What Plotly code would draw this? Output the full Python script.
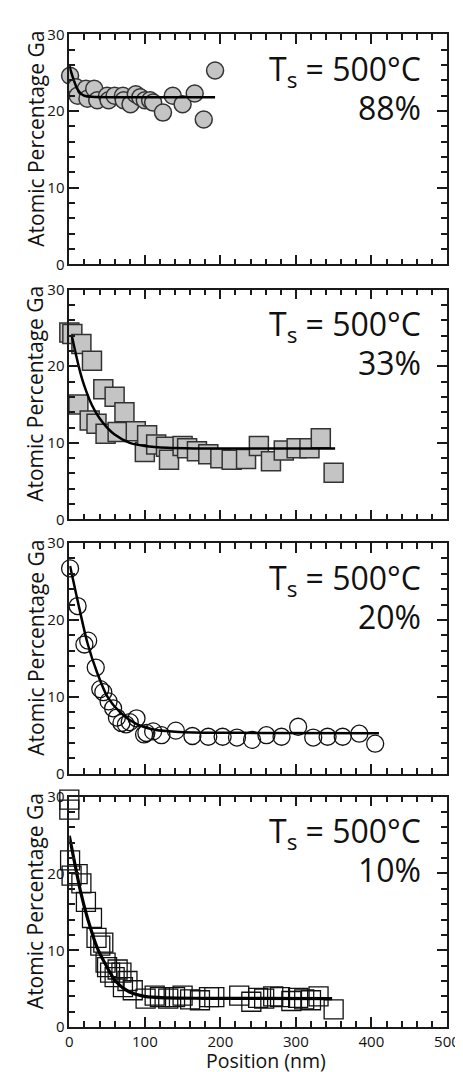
import plotly.graph_objects as go

# ---------------- data ----------------
p1_x = [1, 9, 11, 22, 24, 33, 37, 50, 52, 60, 71, 72, 81, 88, 94, 100, 107, 111, 124, 137, 150, 166, 178, 193]
p1_y = [24.6, 23.1, 22.0, 22.9, 21.6, 22.9, 21.4, 22.0, 21.4, 22.0, 22.0, 21.4, 20.9, 22.2, 21.8, 21.4, 21.4, 21.1, 19.8, 22.0, 20.9, 22.3, 18.9, 25.3]
p1_fit_x = [0, 5, 10, 15, 20, 30, 60, 120, 193]
p1_fit_y = [25.9, 24.3, 23.0, 22.3, 22.0, 21.85, 21.8, 21.8, 21.8]

p2_x = [0, 4, 16, 30, 12, 45, 60, 73, 27, 36, 48, 64, 88, 100, 103, 115, 128, 132, 150, 156, 169, 184, 200, 215, 234, 251, 267, 284, 301, 318, 333, 350]
p2_y = [24.4, 24.2, 22.9, 20.7, 15.0, 17.0, 16.0, 14.0, 12.9, 12.5, 11.2, 11.4, 11.5, 8.8, 11.0, 9.8, 9.5, 7.8, 9.6, 9.3, 8.9, 8.5, 8.0, 7.8, 7.9, 9.6, 7.6, 9.0, 9.3, 9.3, 10.6, 6.1]
p2_fit_x = [3, 10, 15, 20, 30, 40, 50, 60, 80, 100, 130, 170, 250, 352]
p2_fit_y = [24.1, 21.0, 19.0, 17.4, 14.9, 13.2, 12.0, 11.1, 10.0, 9.6, 9.35, 9.27, 9.25, 9.25]

p3_x = [1, 11, 20, 25, 35, 41, 45, 52, 58, 63, 69, 75, 80, 89, 99, 102, 111, 122, 141, 163, 184, 203, 222, 242, 261, 281, 303, 323, 342, 362, 384, 405]
p3_y = [26.7, 21.8, 16.8, 17.3, 13.8, 11.0, 10.6, 9.4, 8.5, 7.3, 6.6, 6.4, 6.7, 7.2, 5.1, 5.3, 5.5, 5.0, 5.6, 4.9, 4.8, 4.8, 4.7, 4.4, 5.0, 4.8, 6.1, 4.7, 4.8, 4.8, 5.2, 3.9]
p3_fit_x = [1, 11, 24, 37, 50, 67, 88, 113, 140, 164, 250, 410]
p3_fit_y = [27.0, 22.5, 17.0, 13.1, 10.1, 8.0, 6.5, 5.7, 5.45, 5.35, 5.3, 5.25]

p4_x = [0, 0, 1, 3, 11, 16, 22, 30, 36, 41, 45, 48, 50, 54, 60, 64, 69, 71, 77, 84, 101, 113, 120, 131, 140, 150, 160, 173, 185, 192, 225, 241, 250, 258, 270, 279, 294, 303, 311, 320, 330, 350]
p4_y = [29.6, 28.3, 21.7, 19.7, 19.9, 18.7, 16.3, 14.2, 11.6, 10.6, 11.0, 8.4, 7.8, 7.1, 6.5, 7.5, 7.1, 5.2, 6.0, 4.8, 3.7, 4.1, 3.9, 3.7, 3.9, 4.1, 3.6, 3.5, 3.9, 3.9, 4.1, 3.3, 3.8, 3.7, 4.0, 3.9, 3.4, 3.8, 3.6, 3.5, 4.0, 2.3]
p4_fit_x = [0, 7, 15, 24, 37, 50, 62, 79, 100, 130, 180, 348]
p4_fit_y = [24.9, 21.4, 17.6, 14.2, 10.3, 7.8, 5.9, 4.6, 4.0, 3.8, 3.75, 3.7]

labels_temp = "T<sub>s</sub> = 500°C"
labels_pct = ["88%", "33%", "20%", "10%"]

# ---------------- layout geometry (pixels) ----------------
W, H = 463, 1072
X_LEFT, X_RIGHT = 59.5, 451.5
panels_px = [(15.7, 250.0), (275.7, 510.0), (534.0, 769.0), (792.3, 1027.3)]

def py(p):
    return 1 - p / H

FONT = "Open Sans, Liberation Sans, sans-serif"
NARROW = "Liberation Sans Narrow, Arial Narrow, Open Sans, sans-serif"
TICKFONT = dict(family=NARROW, size=15, color="#111")
AXC = "#1a1a1a"

fig = go.Figure()

series = [
    (p1_x, p1_y, p1_fit_x, p1_fit_y, dict(symbol="circle", size=17, color="#c4c4c4", line=dict(color="#333", width=1.5)), 2.5),
    (p2_x, p2_y, p2_fit_x, p2_fit_y, dict(symbol="square", size=19, color="#c4c4c4", line=dict(color="#333", width=1.5)), 2.5),
    (p3_x, p3_y, p3_fit_x, p3_fit_y, dict(symbol="circle-open", size=17, color="#111", line=dict(color="#111", width=1.3)), 2.5),
    (p4_x, p4_y, p4_fit_x, p4_fit_y, dict(symbol="square-open", size=19, color="#111", line=dict(color="#111", width=1.3)), 3.2),
]

annotations = []
for i, (sx, sy, fx, fy, mk, lw) in enumerate(series):
    n = "" if i == 0 else str(i + 1)
    xa, ya = "x" + n, "y" + n
    fig.add_trace(go.Scatter(x=sx, y=sy, mode="markers", marker=mk, xaxis=xa, yaxis=ya,
                             cliponaxis=False, showlegend=False))
    fig.add_trace(go.Scatter(x=fx, y=fy, mode="lines", line=dict(color="#000", width=lw, shape="spline", smoothing=0.8),
                             xaxis=xa, yaxis=ya, cliponaxis=False, showlegend=False))
    top, bot = panels_px[i]
    last = (i == 3)
    fig.layout["xaxis" + n] = dict(
        domain=[X_LEFT / W, X_RIGHT / W], anchor=ya, range=[0, 500],
        tickmode="linear", tick0=0, dtick=100,
        showticklabels=last, ticks="inside", ticklen=10, tickwidth=1.6, tickcolor=AXC,
        minor=dict(tickmode="linear", tick0=0, dtick=20, ticks="inside", ticklen=6, tickwidth=1.5,
                   tickcolor=AXC, showgrid=False),
        showline=True, linecolor=AXC, linewidth=1.6, mirror="ticks",
        showgrid=False, zeroline=False, tickfont=TICKFONT, fixedrange=True,
        ticklabeloverflow="allow",
    )
    fig.layout["yaxis" + n] = dict(
        domain=[py(bot), py(top)], anchor=xa, range=[0, 30],
        tickmode="linear", tick0=0, dtick=10,
        ticks="inside", ticklen=10, tickwidth=1.6, tickcolor=AXC,
        minor=dict(tickmode="linear", tick0=0, dtick=2, ticks="inside", ticklen=6, tickwidth=1.5,
                   tickcolor=AXC, showgrid=False),
        showline=True, linecolor=AXC, linewidth=1.6, mirror="ticks",
        showgrid=False, zeroline=False, tickfont=TICKFONT, fixedrange=True,
        ticklabeloverflow="allow",
    )
    annotations.append(dict(text="Atomic Percentage Ga", textangle=-90, xref="paper", yref="paper",
                            x=24 / W, y=py((top + bot) / 2 - 11), xanchor="center", yanchor="middle",
                            showarrow=False, font=dict(family=FONT, size=21, color="#111")))
    annotations.append(dict(text=labels_temp, xref="paper", yref="paper", x=427 / W, y=py(top + 37.5),
                            xanchor="right", yanchor="middle", showarrow=False,
                            font=dict(family=NARROW, size=32, color="#111")))
    annotations.append(dict(text=labels_pct[i], xref="paper", yref="paper", x=427 / W, y=py(top + 74.5),
                            xanchor="right", yanchor="middle", showarrow=False,
                            font=dict(family=NARROW, size=32, color="#111")))

annotations.append(dict(text="Position (nm)", xref="paper", yref="paper", x=264 / W, y=py(1061),
                        xanchor="center", yanchor="middle", borderpad=0, showarrow=False,
                        font=dict(family=FONT, size=19.5, color="#111")))

fig.update_layout(width=W, height=H, margin=dict(l=0, r=0, t=0, b=0),
                  paper_bgcolor="white", plot_bgcolor="white", annotations=annotations)

fig.write_html("out.html")
